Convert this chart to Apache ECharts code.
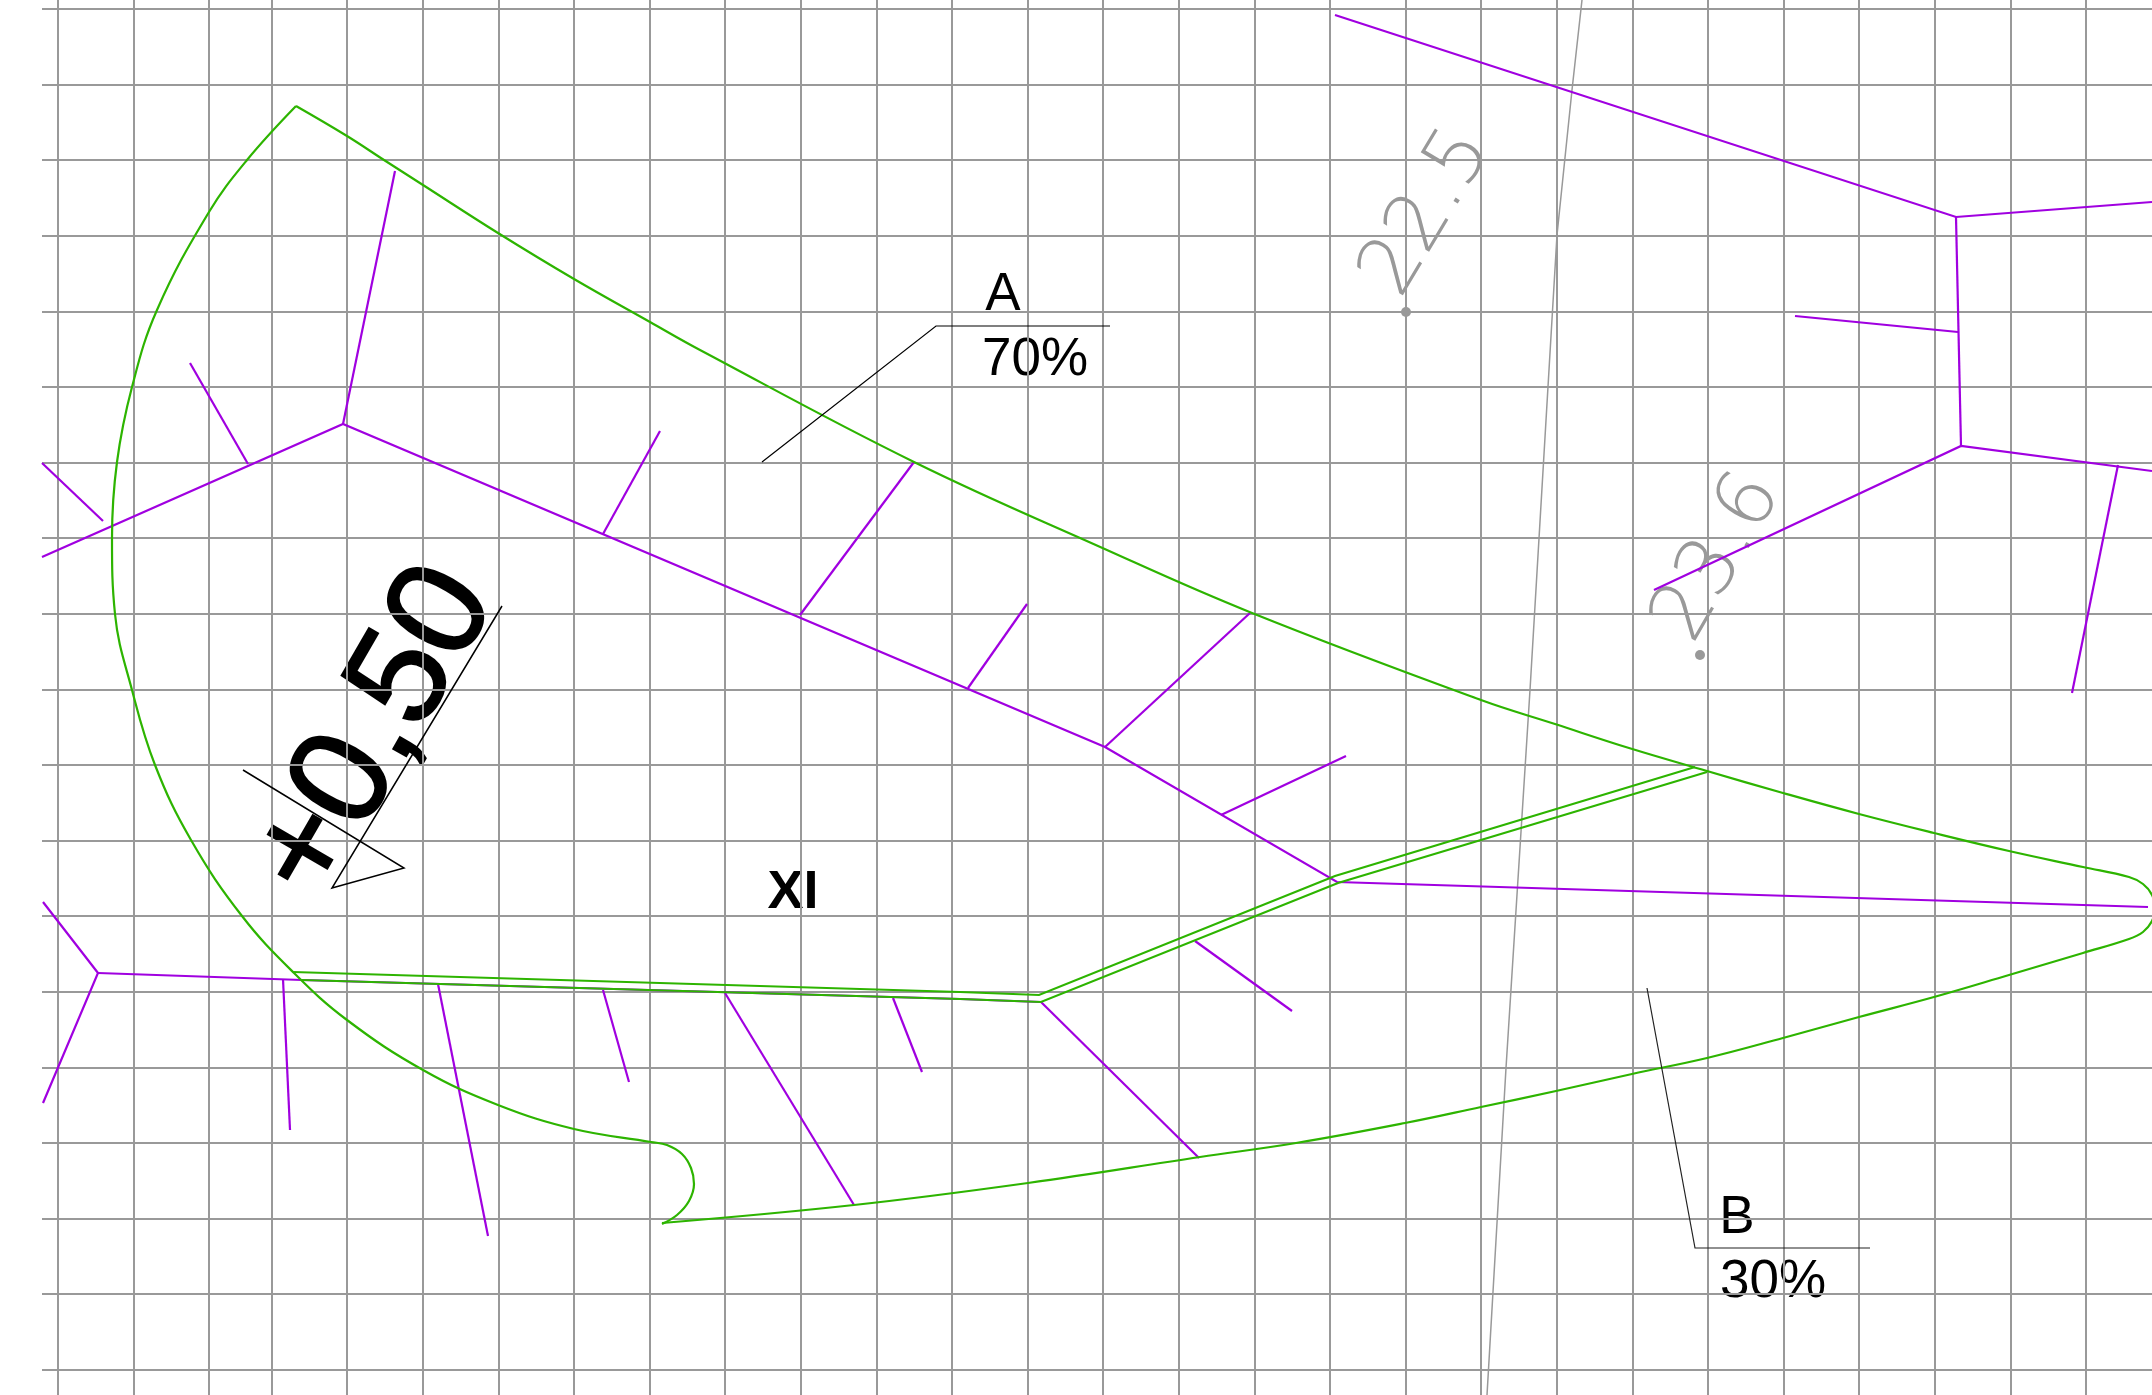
<!DOCTYPE html>
<html>
<head>
<meta charset="utf-8">
<title>XI</title>
<script src="https://cdn.jsdelivr.net/npm/echarts@6/dist/echarts.min.js"></script>
<style>
html,body{margin:0;padding:0;background:#fff;}
#main{width:2152px;height:1395px;}
</style>
</head>
<body>
<div id="main"></div>
<script>
// grid positions, drawing units
var gridX = [58,133.6,209.2,271.5,347.1,422.7,498.3,573.9,649.5,725.1,800.7,876.3,951.9,1027.5,1103.1,1178.7,1254.3,1329.9,1405.5,1481.1,1556.7,1632.3,1707.9,1783.5,1859.1,1934.7,2010.3,2085.9];
var gridY = [9,84.6,160.2,235.8,311.4,387,462.6,538.2,613.8,689.4,765,840.6,916.2,991.8,1067.4,1143,1218.6,1294.2,1369.8];

// green outline
var outlineArc = [[296,106],[247,160],[209,212],[157,310],[132,387],[117,462],[112,538],[115,614],[132,690],[155,765],[191,840],[242,916],[294,973],[347,1020],[423,1070],[498,1105],[574,1129],[651,1142],[667,1145],[682,1154],[691,1168],[694,1184],[689,1201],[677,1215],[662,1224]];
var outlineLower = [[662,1223],[854,1205],[1028,1183],[1200,1157],[1296,1143],[1405,1123],[1481,1107],[1556,1091],[1632,1074],[1707,1058],[1783,1038],[1859,1017],[1934,997],[2009,975],[2083,953],[2129,939],[2143,932],[2152,921],[2155,908],[2152,895],[2143,884],[2129,877],[2083,867],[2009,851],[1934,833],[1859,814],[1783,793],[1707,771],[1629,748],[1555,724],[1481,700],[1252,613],[1098,546],[914,462],[700,350],[650,322],[574,279],[498,233],[423,185],[384,160],[347,136],[296,106]];
var divideTop = [[293,972],[960,992],[1039,995],[1335,876],[1695,767]];
var divideBottom = [[302,980],[960,999],[1041,1002],[1338,883],[1707,772]];

// purple skeleton
var purpleLines = [
  [[42,557],[343,424],[1105,747],[1337,882],[2148,907]],
  [[343,424],[395,171]],
  [[190,363],[248,464]],
  [[42,463],[103,521]],
  [[603,534],[660,431]],
  [[800,615],[914,462]],
  [[968,688],[1027,604]],
  [[1105,747],[1250,613]],
  [[1221,815],[1346,756]],
  [[1195,941],[1292,1011]],
  [[1041,1002],[1199,1158]],
  [[43,902],[98,973],[43,1103]],
  [[98,973],[302,980],[960,999],[1041,1002]],
  [[283,979],[290,1130]],
  [[438,984],[488,1236]],
  [[603,990],[629,1082]],
  [[725,993],[854,1205]],
  [[893,998],[922,1072]],
  [[1335,15],[1956,217],[2152,202]],
  [[1956,217],[1961,446]],
  [[1795,316],[1958,332]],
  [[1654,590],[1961,446],[2152,471]],
  [[2118,465],[2072,693]]
];

var grayLine = [[1582,0],[1572,90],[1557,235],[1530,690],[1506,1068],[1487,1395]];
var leaderA = [[762,462],[936,326],[1110,326]];
var leaderB = [[1647,988],[1695,1248],[1870,1248]];
var flagLine = [[243,770],[404,868],[332,888],[502,606]];
var grayDots = [[1406,312],[1700,655]];

// text
var labelText = ['A','70%','B','30%','XI','+0,50','22.5','23.6'];
var labelPos = [[1003,295],[1035,360],[1737,1218],[1773,1282],[793,893],[375,733],[1428,213],[1719,558]];
var labelAngle = [0,0,0,0,0,60,59,60];
var labelSize = [53,53,53,53,54,140,80,80];
var labelWeight = ['normal','normal','normal','normal','bold','normal',200,200];
var labelColor = ['#000','#000','#000','#000','#000','#000','#999','#999'];
var labelBorder = [0,0,0,0,0,2,0,0];
var labelFont = ['Liberation Sans','Liberation Sans','Liberation Sans','Liberation Sans','Liberation Sans','Liberation Sans','DejaVu Sans','DejaVu Sans'];

function lineSeries(data,color,width,z,smooth){
    return {
        type:'line',
        data:data,
        symbol:'none',
        silent:true,
        z:z,
        smooth:smooth || false,
        lineStyle:{color:color,width:width,cap:'butt',join:'miter'},
        animation:false
    };
}

var series = [];
series.push(lineSeries(grayLine,'#999',1.5,1));
for(var i=0;i<purpleLines.length;i++){
    series.push(lineSeries(purpleLines[i],'#a000e0',2.2,2));
}
series.push(lineSeries(outlineArc,'#2db400',2.2,3,0.4));
series.push(lineSeries(outlineLower,'#2db400',2.2,3,0.4));
series.push(lineSeries(divideTop,'#2db400',2.2,3));
series.push(lineSeries(divideBottom,'#2db400',2.2,3));
series.push(lineSeries(leaderA,'#000',1.2,4));
series.push(lineSeries(leaderB,'#222',1.2,4));
series.push(lineSeries(flagLine,'#000',1.5,4));
series.push({
    type:'scatter',
    data:grayDots,
    symbol:'circle',
    symbolSize:10,
    silent:true,
    z:4,
    itemStyle:{color:'#999',opacity:1},
    animation:false
});

// labels sit under the grid lines, like the drawing
var labelData = [];
for(var i=0;i<labelText.length;i++){
    labelData.push({
        value:labelPos[i],
        label:{
            show:true,
            position:'inside',
            formatter:labelText[i],
            rotate:labelAngle[i],
            align:'center',
            verticalAlign:'middle',
            fontFamily:labelFont[i],
            fontSize:labelSize[i],
            fontWeight:labelWeight[i],
            color:labelColor[i],
            textBorderColor:labelColor[i],
            textBorderWidth:labelBorder[i],
            opacity:1
        }
    });
}
series.push({
    type:'scatter',
    data:labelData,
    symbolSize:1,
    silent:true,
    z:-1,
    itemStyle:{color:'transparent',opacity:1},
    animation:false
});

var myChart = echarts.init(document.getElementById('main'));
myChart.setOption({
    backgroundColor:'#fff',
    animation:false,
    grid:{left:42,right:0,top:0,bottom:0},
    xAxis:{
        type:'value',
        min:42,
        max:2152,
        axisLine:{show:false},
        axisLabel:{show:false},
        axisTick:{show:false,customValues:gridX},
        splitLine:{show:true,lineStyle:{color:'#999',width:2}}
    },
    yAxis:{
        type:'value',
        min:0,
        max:1395,
        inverse:true,
        axisLine:{show:false},
        axisLabel:{show:false},
        axisTick:{show:false,customValues:gridY},
        splitLine:{show:true,lineStyle:{color:'#999',width:2}}
    },
    series:series
});
</script>
</body>
</html>
